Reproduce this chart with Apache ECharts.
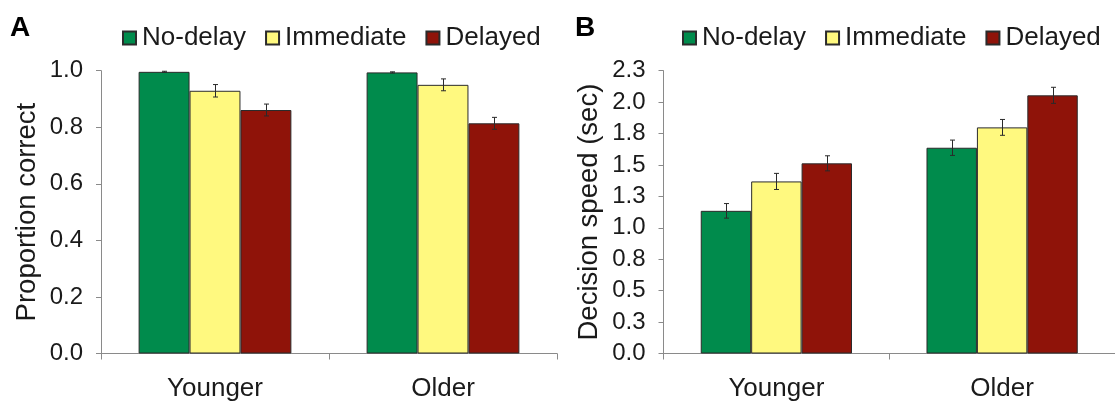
<!DOCTYPE html>
<html>
<head>
<meta charset="utf-8">
<script src="https://cdn.jsdelivr.net/npm/echarts@6/dist/echarts.min.js"></script>
<style>
html,body{margin:0;padding:0;background:#fff;}
#chart{width:1115px;height:404px;}
</style>
</head>
<body>
<div id="chart"></div>
<script>
// ---- data ----
const categories = ['Younger', 'Older'];
const seriesNames = ['No-delay', 'Immediate', 'Delayed'];

// Panel A: proportion correct
const accNoDelay   = [0.996, 0.994];
const accImmediate = [0.929, 0.950];
const accDelayed   = [0.861, 0.814];
const accErrNoDelay   = [0.002, 0.002];
const accErrImmediate = [0.022, 0.021];
const accErrDelayed   = [0.021, 0.021];

// Panel B: decision speed (sec)
const spdNoDelay   = [1.135, 1.637];
const spdImmediate = [1.369, 1.799];
const spdDelayed   = [1.513, 2.054];
const spdErrNoDelay   = [0.058, 0.061];
const spdErrImmediate = [0.064, 0.063];
const spdErrDelayed   = [0.060, 0.064];

const accTickLabels = ['0.0', '0.2', '0.4', '0.6', '0.8', '1.0'];
const spdTickLabels = ['0.0', '0.3', '0.5', '0.8', '1.0', '1.3', '1.5', '1.8', '2.0', '2.3'];

// ---- styling ----
const FONT = "'Liberation Sans', Arial, sans-serif";
const colors = ['#008b4c', '#fff97f', '#8f1309'];
const TXT = '#1a1a1a';
const AXIS = '#8a8a8a';
const CAT_GAP = 0.33;

const chart = echarts.init(document.getElementById('chart'), null, {renderer: 'canvas'});

function errRender(seriesPos) {
  return function (params, api) {
    const ci = api.value(0), v = api.value(1), e = api.value(2);
    const band = api.size([1, 0])[0];
    const bw = band * (1 - CAT_GAP) / 3;
    const c = api.coord([ci, v]);
    const x = Math.round(c[0] + (seriesPos - 1) * bw) + 0.5;
    const top = api.coord([ci, v + e])[1];
    const bot = api.coord([ci, v - e])[1];
    const cap = 2.5;
    const st = {stroke: '#2a2a2a', lineWidth: 1};
    return {
      type: 'group',
      children: [
        {type: 'line', shape: {x1: x, y1: top, x2: x, y2: bot}, style: st},
        {type: 'line', shape: {x1: x - cap, y1: top, x2: x + cap, y2: top}, style: st},
        {type: 'line', shape: {x1: x - cap, y1: bot, x2: x + cap, y2: bot}, style: st}
      ]
    };
  };
}

function barSeries(name, data, idx, grid) {
  return {
    name: name, type: 'bar', xAxisIndex: grid, yAxisIndex: grid,
    data: data, barGap: '0%', barCategoryGap: (CAT_GAP * 100) + '%',
    itemStyle: {color: colors[idx], borderColor: '#2b2b2b', borderWidth: 1},
    emphasis: {disabled: true}, animation: false
  };
}
function errSeries(name, vals, errs, idx, grid) {
  return {
    name: name, type: 'custom', xAxisIndex: grid, yAxisIndex: grid,
    renderItem: errRender(idx),
    data: vals.map((v, i) => [i, v, errs[i]]),
    encode: {x: 0, y: 1}, z: 5, silent: true, animation: false
  };
}

function xAxisCfg(grid) {
  return {
    type: 'category', gridIndex: grid, data: categories,
    axisLine: {lineStyle: {color: AXIS, width: 1}},
    axisTick: {show: true, length: 6, alignWithLabel: false, lineStyle: {color: AXIS}},
    axisLabel: {color: TXT, fontSize: 26, fontFamily: FONT, margin: 22},
    splitLine: {show: false}
  };
}
function yAxisCfg(grid, name, max, interval, labels) {
  return {
    type: 'value', gridIndex: grid, min: 0, max: max, interval: interval,
    name: name, nameLocation: 'middle', nameRotate: 90, nameGap: 60,
    nameTextStyle: {color: TXT, fontSize: 27.5, fontFamily: FONT},
    axisLine: {show: true, lineStyle: {color: AXIS, width: 1}},
    axisTick: {show: true, length: 5, lineStyle: {color: AXIS}},
    axisLabel: {
      color: TXT, fontSize: 24, fontFamily: FONT, margin: 18,
      formatter: function (v) { return labels[Math.round(v / interval)]; }
    },
    splitLine: {show: false}
  };
}
function legendCfg(left) {
  return {
    left: left, top: 25, padding: 0, itemGap: 19, itemWidth: 13, itemHeight: 13,
    icon: 'rect', data: seriesNames, selectedMode: false,
    textStyle: {color: TXT, fontSize: 26, fontFamily: FONT, padding: [0, 0, 0, 1]}
  };
}

const option = {
  backgroundColor: '#ffffff',
  animation: false,
  title: [
    {text: 'A', left: 10, top: 14, padding: 0, textStyle: {fontSize: 28, fontWeight: 'bold', color: '#000', fontFamily: FONT}},
    {text: 'B', left: 575, top: 14, padding: 0, textStyle: {fontSize: 28, fontWeight: 'bold', color: '#000', fontFamily: FONT}}
  ],
  legend: [legendCfg(122), legendCfg(682)],
  grid: [
    {left: 101, right: 558, top: 70.7, bottom: 50.5},
    {left: 663.5, right: -3, top: 70.7, bottom: 50.5}
  ],
  xAxis: [xAxisCfg(0), xAxisCfg(1)],
  yAxis: [
    yAxisCfg(0, 'Proportion correct', 1, 0.2, accTickLabels),
    yAxisCfg(1, 'Decision speed (sec)', 2.25, 0.25, spdTickLabels)
  ],
  series: [
    barSeries(seriesNames[0], accNoDelay, 0, 0),
    barSeries(seriesNames[1], accImmediate, 1, 0),
    barSeries(seriesNames[2], accDelayed, 2, 0),
    barSeries(seriesNames[0], spdNoDelay, 0, 1),
    barSeries(seriesNames[1], spdImmediate, 1, 1),
    barSeries(seriesNames[2], spdDelayed, 2, 1),
    errSeries('errA0', accNoDelay, accErrNoDelay, 0, 0),
    errSeries('errA1', accImmediate, accErrImmediate, 1, 0),
    errSeries('errA2', accDelayed, accErrDelayed, 2, 0),
    errSeries('errB0', spdNoDelay, spdErrNoDelay, 0, 1),
    errSeries('errB1', spdImmediate, spdErrImmediate, 1, 1),
    errSeries('errB2', spdDelayed, spdErrDelayed, 2, 1)
  ]
};
chart.setOption(option);
</script>
</body>
</html>
